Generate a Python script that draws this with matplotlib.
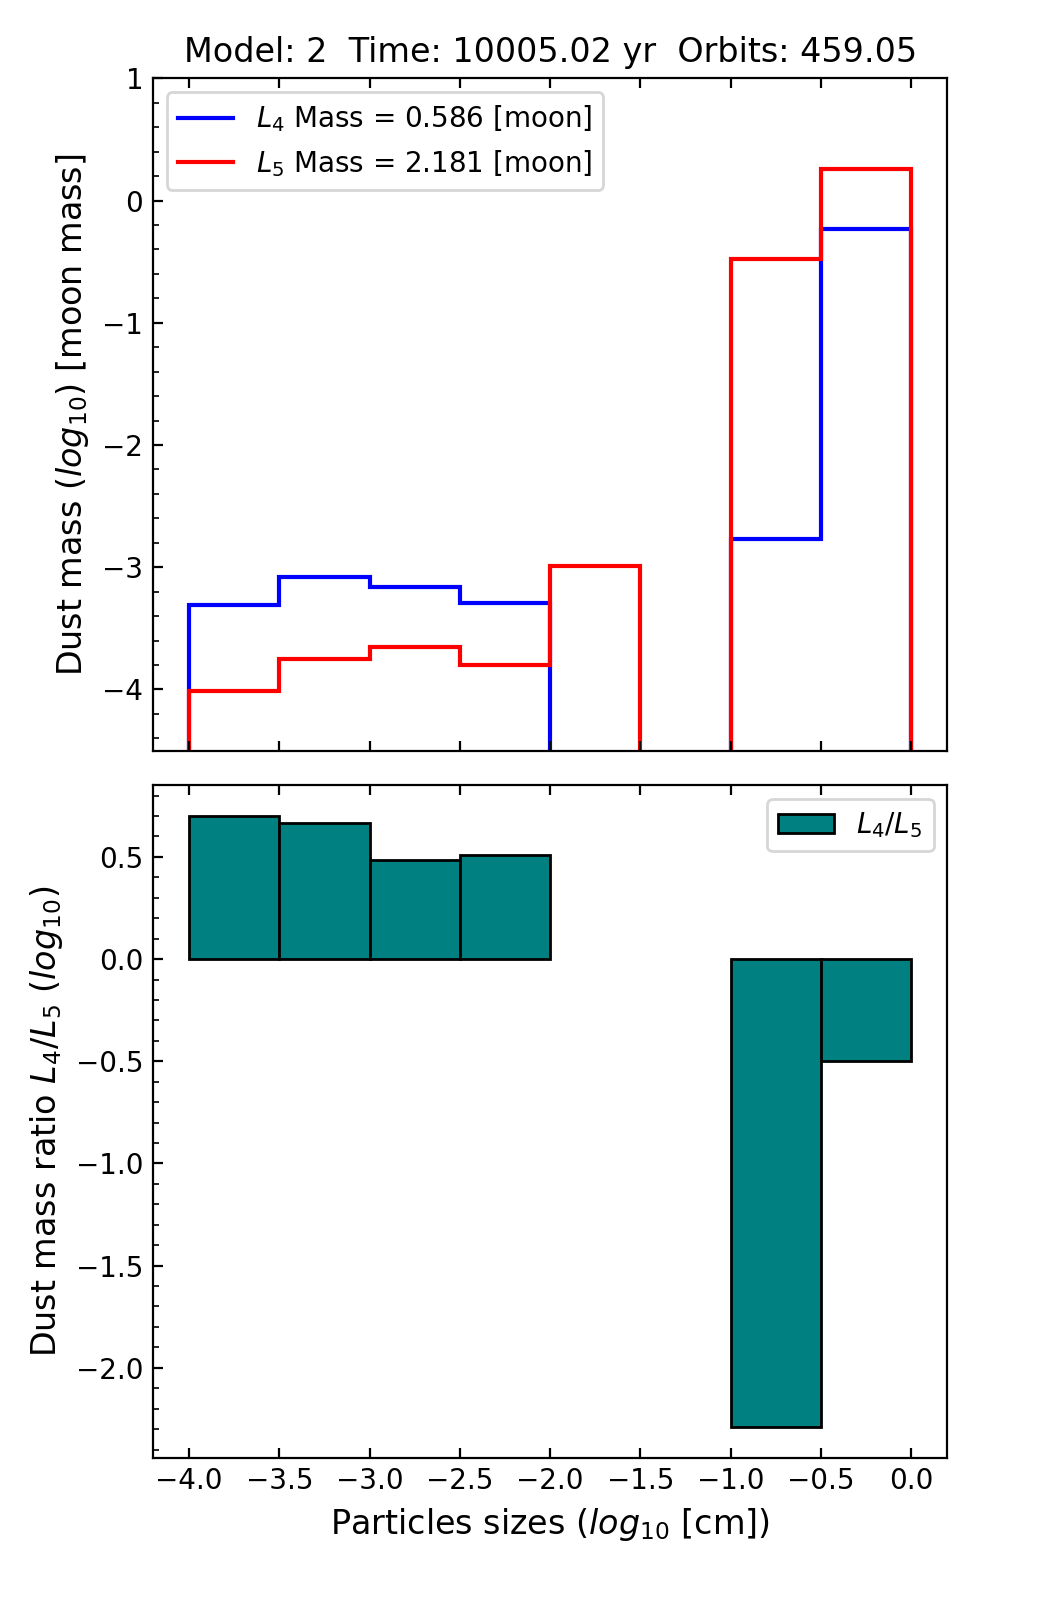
import matplotlib
matplotlib.use('Agg')
import matplotlib.pyplot as plt
import matplotlib.ticker as ticker
import numpy as np

# bin edges in log10(cm)
edges = [-4.0, -3.5, -3.0, -2.5, -2.0, -1.5, -1.0, -0.5, 0.0]

# log10 dust mass per bin [moon mass], None = empty bin
l4_mass = [-3.31, -3.08, -3.16, -3.29, None, None, -2.77, -0.23]
l5_mass = [-4.01, -3.75, -3.65, -3.80, -2.99, None, -0.48, 0.26]

# log10 ratio L4/L5, None = undefined
ratio = [0.70, 0.667, 0.485, 0.51, None, None, -2.29, -0.50]

l4_total = 0.586
l5_total = 2.181
title = 'Model: 2  Time: 10005.02 yr  Orbits: 459.05'

floor = -10.0


def fill_empty(vals):
    return np.array([floor if v is None else v for v in vals])


fig, (ax1, ax2) = plt.subplots(2, 1, figsize=(5.2, 8), dpi=200, sharex=True)
plt.subplots_adjust(left=0.147, right=0.911, top=0.951, bottom=0.089, hspace=0.052)

ax1.stairs(fill_empty(l4_mass), edges, baseline=floor, color='blue', lw=1.5,
           label='$L_4$ Mass = %.3f [moon]' % l4_total)
ax1.stairs(fill_empty(l5_mass), edges, baseline=floor, color='red', lw=1.5,
           label='$L_5$ Mass = %.3f [moon]' % l5_total)
ax1.set_ylim(-4.5, 1)
ax1.set_xlim(-4.2, 0.2)
ax1.set_ylabel('Dust mass ($log_{10}$) [moon mass]', fontsize=12)
ax1.set_title(title, fontsize=12)
ax1.legend(loc='upper left', fontsize=10)

lefts = np.array(edges[:-1])
r = np.array([np.nan if v is None else v for v in ratio])
ok = ~np.isnan(r)
ax2.bar(lefts[ok], r[ok], width=0.5, align='edge', color='teal',
        edgecolor='black', linewidth=1, label='$L_4/L_5$')
ax2.set_ylabel('Dust mass ratio $L_4/L_5$ ($log_{10}$)', fontsize=12)
ax2.set_xlabel('Particles sizes ($log_{10}$ [cm])', fontsize=12)
ax2.legend(loc='upper right', fontsize=10)
ax2.yaxis.set_major_locator(ticker.MultipleLocator(0.5))

for ax in (ax1, ax2):
    ax.xaxis.set_major_locator(ticker.MultipleLocator(0.5))
    ax.yaxis.set_minor_locator(ticker.AutoMinorLocator(5))
    ax.tick_params(axis='x', which='both', direction='in', top=True, bottom=True)
    ax.tick_params(axis='y', which='both', direction='in', left=True, right=False)

plt.savefig('out.png', dpi=200)
